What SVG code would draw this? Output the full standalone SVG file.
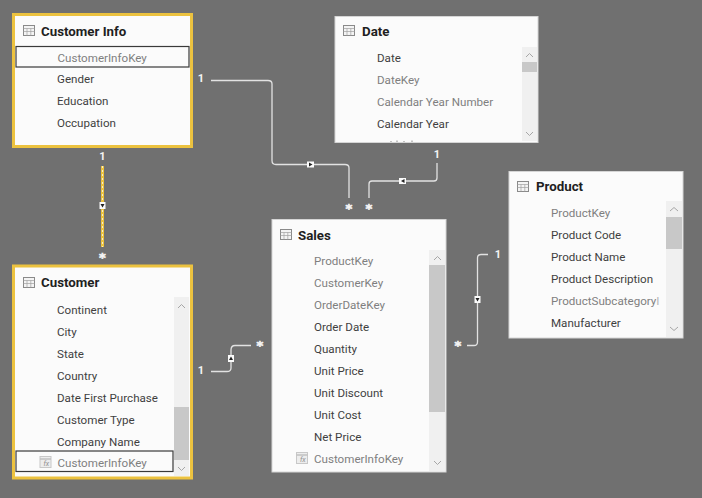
<svg xmlns="http://www.w3.org/2000/svg" width="702" height="498" viewBox="0 0 702 498">
<style>
text{font-family:Roboto,"Open Sans","Liberation Sans",sans-serif}
.box{fill:#fbfbfb;stroke:#d5d5d5;stroke-width:1}
.sel{fill:#fbfbfb;stroke:#ecc23f;stroke-width:3}
.title{font-size:13.300px;font-weight:700;fill:#1f1f1f}
.f{font-size:11.600px;fill:#3f3f3f}
.h{font-size:11.600px;fill:#7f7f7f}
.track{fill:#f0f0f0}
.thumb{fill:#c8c8c8}
.chev{fill:none;stroke:#a6a6a6;stroke-width:1}
.rowsel{fill:#fbfbfb;stroke:#3a3a3a;stroke-width:1.2}
.ico{fill:#f4f4f4;stroke:#8a8a8a;stroke-width:1}
.icol{fill:none;stroke:#a0a0a0;stroke-width:.7}
.card{font-size:11px;font-weight:700;fill:#f4f4f4;text-anchor:middle}
.star{font-family:"DejaVu Sans",sans-serif;font-size:13px;stroke:#f4f4f4;stroke-width:.6}
.line{fill:none;stroke:#e2e2e2;stroke-width:1.3}
.yl{fill:none;stroke:#ecc23f;stroke-width:3}
.yd{fill:none;stroke:#f6efd0;stroke-width:1;stroke-dasharray:2 2}
.mk{fill:#fbfbfb}
.ar{fill:#222}
.calc{fill:#ededed;stroke:#c8c8c8;stroke-width:1}
</style>
<defs>
<g id="tbl"><rect class="ico" x="0.5" y="0.5" width="11" height="10"/><path class="icol" d="M0.5 3.5H11.5M0.5 6.5H11.5M4 3.5V10.5M7.8 3.5V10.5"/></g>
<g id="calcico"><rect class="calc" x="0.5" y="0.5" width="11" height="11"/><path d="M.5 3H11.5" stroke="#c0c0c0" stroke-width="1.5"/><text x="4" y="10" font-size="7" font-style="italic" fill="#909090">fx</text></g>
</defs>
<rect width="702" height="498" fill="#707070"/>

<g id="connectors">
<path class="line" d="M211 80.500H268Q272 80.500 272 84V160.500Q272 164.500 276 164.500H345Q349 164.500 349 168V198"/>
<path class="line" d="M369 198V184Q369 181 372 181H434Q437 181 437 178V163"/>
<path class="yl" d="M102.500 166V247"/>
<path class="yd" d="M102.500 166V247"/>
<path class="line" d="M211 371.500H227Q231 371.500 231 368V350Q231 345.500 235 345.500H251"/>
<path class="line" d="M467 345.500H474Q477.500 345.500 477.500 342V258Q477.500 254.500 481 254.500H488"/>
<g>
<rect class="mk" x="307" y="161.500" width="7" height="6"/><path class="ar" d="M309 162.500L312.500 164.500L309 166.500Z"/>
<rect class="mk" x="399" y="178" width="7" height="6"/><path class="ar" d="M404.500 179L401 181L404.500 183Z"/>
<rect class="mk" x="99.500" y="202" width="6" height="7"/><path class="ar" d="M100.500 204H104.500L102.500 207.500Z"/>
<rect class="mk" x="228" y="355" width="6" height="7"/><path class="ar" d="M229 360H233L231 356.500Z"/>
<rect class="mk" x="474.500" y="296" width="6" height="7"/><path class="ar" d="M475.500 298H479.500L477.500 301.500Z"/>
</g>
</g>

<g id="labels">
<text class="card" x="201" y="82">1</text>
<text class="card" x="102.500" y="160">1</text>
<text class="card" x="437" y="158">1</text>
<text class="card" x="201" y="374">1</text>
<text class="card" x="498" y="258">1</text>
<text class="card star" x="349" y="212.500">*</text>
<text class="card star" x="369" y="212.500">*</text>
<text class="card star" x="102.500" y="262">*</text>
<text class="card star" x="260" y="350">*</text>
<text class="card star" x="458" y="350">*</text>
</g>

<g id="customer-info">
<rect class="sel" x="13.500" y="14.500" width="178" height="132"/>
<use href="#tbl" x="23" y="25"/>
<text class="title" x="41" y="36">Customer Info</text>
<rect class="rowsel" x="16" y="46.500" width="173" height="20.500"/>
<text class="h" x="57.500" y="62">CustomerInfoKey</text>
<text class="f" x="57" y="83">Gender</text>
<text class="f" x="57" y="105">Education</text>
<text class="f" x="57" y="127">Occupation</text>
</g>

<g id="customer">
<rect class="sel" x="13.500" y="266" width="178" height="212"/>
<use href="#tbl" x="23" y="277"/>
<text class="title" x="41" y="287">Customer</text>
<rect class="track" x="174" y="297" width="15" height="179"/>
<rect class="thumb" x="174" y="407" width="15" height="53"/>
<path class="chev" d="M178 308L181.500 304.500L185 308M178 467L181.500 470.500L185 467"/>
<text class="f" x="57" y="314">Continent</text>
<text class="f" x="57" y="336">City</text>
<text class="f" x="57" y="358">State</text>
<text class="f" x="57" y="380">Country</text>
<text class="f" x="57" y="402">Date First Purchase</text>
<text class="f" x="57" y="424">Customer Type</text>
<text class="f" x="57" y="446">Company Name</text>
<rect class="rowsel" x="16" y="451" width="157" height="20.500"/>
<use href="#calcico" x="39.500" y="456"/>
<text class="h" x="57.500" y="467">CustomerInfoKey</text>
</g>

<g id="date">
<rect class="box" x="335" y="16.500" width="203" height="126"/>
<use href="#tbl" x="343" y="25"/>
<text class="title" x="362" y="36">Date</text>
<rect class="track" x="522" y="47" width="15" height="94"/>
<rect class="thumb" x="522" y="62" width="15" height="10"/>
<path class="chev" d="M526 57L529.500 53.500L533 57M526 132L529.500 135.500L533 132"/>
<text class="f" x="377" y="62">Date</text>
<text class="h" x="377" y="84">DateKey</text>
<text class="h" x="377" y="106">Calendar Year Number</text>
<text class="f" x="377" y="128">Calendar Year</text>
<path d="M391 142V141M397 142V140.500M404 142V141M412 142V140.500" stroke="#8a8a8a" stroke-width="1"/>
</g>

<g id="sales">
<rect class="box" x="272" y="219.500" width="174" height="252.500"/>
<use href="#tbl" x="280" y="229"/>
<text class="title" x="298" y="240">Sales</text>
<rect class="track" x="429" y="250" width="16" height="221"/>
<rect class="thumb" x="429" y="265" width="16" height="147"/>
<path class="chev" d="M434 260L437.500 256.500L441 260M434 461L437.500 464.500L441 461"/>
<text class="h" x="314" y="265">ProductKey</text>
<text class="h" x="314" y="287">CustomerKey</text>
<text class="h" x="314" y="309">OrderDateKey</text>
<text class="f" x="314" y="331">Order Date</text>
<text class="f" x="314" y="353">Quantity</text>
<text class="f" x="314" y="375">Unit Price</text>
<text class="f" x="314" y="397">Unit Discount</text>
<text class="f" x="314" y="419">Unit Cost</text>
<text class="f" x="314" y="441">Net Price</text>
<use href="#calcico" x="296" y="452"/>
<text class="h" x="314" y="463">CustomerInfoKey</text>
</g>

<g id="product">
<rect class="box" x="509" y="171.500" width="174" height="166.500"/>
<use href="#tbl" x="517" y="181"/>
<text class="title" x="536" y="191">Product</text>
<rect class="track" x="666" y="201" width="16" height="136"/>
<rect class="thumb" x="666" y="217" width="16" height="32"/>
<path class="chev" d="M670 211L674 207.500L678 211M670 327L674 330.500L678 327"/>
<text class="h" x="551" y="217">ProductKey</text>
<text class="f" x="551" y="239">Product Code</text>
<text class="f" x="551" y="261">Product Name</text>
<text class="f" x="551" y="283">Product Description</text>
<text class="h" x="551" y="305">ProductSubcategory<tspan fill="#b5b5b5">I</tspan></text>
<text class="f" x="551" y="327">Manufacturer</text>
</g>
</svg>
